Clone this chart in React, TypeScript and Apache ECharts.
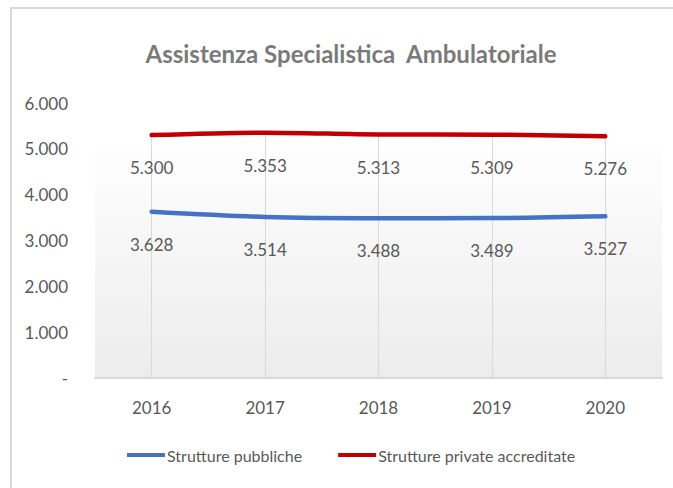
import React, { useEffect, useRef } from "react";
import * as echarts from "echarts";

const categories = ["2016", "2017", "2018", "2019", "2020"];
const pubbliche = [3628, 3514, 3488, 3489, 3527];
const private_ = [5300, 5353, 5313, 5309, 5276];
const seriesNames = ["Strutture pubbliche", "Strutture private accreditate"];
const titleText = "Assistenza Specialistica  Ambulatoriale";

const FONT = "Lato, 'Open Sans', sans-serif";
const GREY = "#595959";

const fmt = (v: number) => {
  if (v === 0) return "-";
  return Math.round(v).toString().replace(/\B(?=(\d{3})+(?!\d))/g, ".");
};

const makeSeries = (name: string, data: number[], color: string) => ({
  name,
  type: "line",
  data,
  smooth: 0.3,
  symbol: "circle",
  symbolSize: 0.1,
  showSymbol: true,
  lineStyle: { color, width: 4.5, cap: "round" },
  itemStyle: { color },
  z: 5,
  label: {
    show: true,
    position: "bottom",
    distance: 24,
    formatter: (p: any) => fmt(p.value),
    fontFamily: FONT,
    fontSize: 17,
    color: GREY,
  },
});

export default function App() {
  const ref = useRef<HTMLDivElement>(null);
  useEffect(() => {
    document.body.style.margin = "0";
    const chart = echarts.init(ref.current!, null, { renderer: "svg" });
    chart.setOption({
      animation: false,
      backgroundColor: "#ffffff",
      title: {
        text: titleText,
        left: 346,
        textAlign: "center",
        top: 36,
        textStyle: { fontFamily: FONT, fontSize: 24, fontWeight: "bold", color: "#7a7a7a" },
      },
      legend: {
        bottom: 20,
        left: 122,
        itemGap: 36,
        itemWidth: 38,
        itemHeight: 4,
        icon: "rect",
        textStyle: { fontFamily: FONT, fontSize: 16, color: GREY, padding: [0, 0, 0, -3] },
        data: seriesNames,
      },
      graphic: [
        { type: "line", shape: { x1: 10, y1: 8, x2: 673, y2: 8 }, style: { stroke: "#d9d9d9", lineWidth: 2 } },
        { type: "line", shape: { x1: 11, y1: 8, x2: 11, y2: 488 }, style: { stroke: "#d9d9d9", lineWidth: 2 } },
      ],
      grid: [
        { left: 95, right: 11, top: 103, bottom: 110 },
        {
          left: 95, right: 11, top: 133, bottom: 110, show: true, borderWidth: 0,
          backgroundColor: new echarts.graphic.LinearGradient(0, 0, 0, 1, [
            { offset: 0, color: "#ffffff" },
            { offset: 1, color: "#ececec" },
          ]),
          z: 0,
        },
      ],
      xAxis: [
        {
          type: "category",
          data: categories,
          gridIndex: 0,
          axisLine: { show: true, lineStyle: { color: "#d9d9d9", width: 2 } },
          axisTick: { show: false },
          axisLabel: { fontFamily: FONT, fontSize: 17, color: GREY, margin: 21 },
          splitLine: { show: false },
        },
        {
          type: "category",
          data: categories,
          gridIndex: 1,
          axisLine: { show: false },
          axisTick: { show: false, alignWithLabel: true },
          axisLabel: { show: false },
          splitLine: { show: true, alignWithLabel: true, lineStyle: { color: "#d9d9d9", width: 1 } },
        },
      ],
      yAxis: [
        {
          type: "value",
          gridIndex: 0,
          min: 0,
          max: 6000,
          interval: 1000,
          axisLine: { show: false },
          axisTick: { show: false },
          splitLine: { show: false },
          axisLabel: { fontFamily: FONT, fontSize: 17, color: GREY, margin: 27, formatter: fmt },
        },
        {
          type: "value",
          gridIndex: 1,
          show: false,
          splitLine: { show: false },
        },
      ],
      series: [
        makeSeries(seriesNames[0], pubbliche, "#4472c4"),
        makeSeries(seriesNames[1], private_, "#c00000"),
      ],
    });
    return () => chart.dispose();
  }, []);
  return <div ref={ref} style={{ width: 673, height: 488 }} />;
}
